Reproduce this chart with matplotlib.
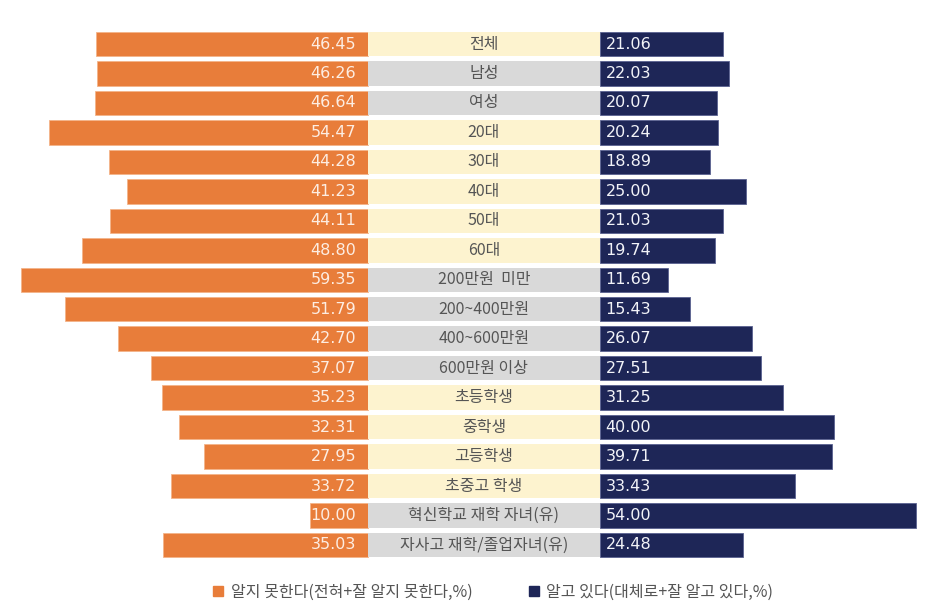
import matplotlib.pyplot as plt
from matplotlib.lines import Line2D

plt.rcParams['font.family'] = ['Noto Sans CJK KR', 'DejaVu Sans']

CATEGORIES = [
    "전체", "남성", "여성", "20대", "30대", "40대", "50대", "60대",
    "200만원  미만", "200~400만원", "400~600만원", "600만원 이상",
    "초등학생", "중학생", "고등학생", "초중고 학생",
    "혁신학교 재학 자녀(유)", "자사고 재학/졸업자녀(유)",
]
DONT_KNOW = [46.45, 46.26, 46.64, 54.47, 44.28, 41.23, 44.11, 48.80,
             59.35, 51.79, 42.70, 37.07, 35.23, 32.31, 27.95, 33.72,
             10.00, 35.03]
KNOW = [21.06, 22.03, 20.07, 20.24, 18.89, 25.00, 21.03, 19.74,
        11.69, 15.43, 26.07, 27.51, 31.25, 40.00, 39.71, 33.43,
        54.00, 24.48]
# label box shading: True = yellow, False = grey
YELLOW_ROW = [True, False, False, True, True, True, True, True,
              False, False, False, False, True, True, True, True,
              False, False]

LEGEND_LABELS = ["알지 못한다(전혀+잘 알지 못한다,%)", "알고 있다(대체로+잘 알고 있다,%)"]

ORANGE = "#E87D3A"
NAVY = "#1E2657"
YELLOW = "#FDF3CF"
GREY = "#D9D9D9"
HALF = 19.8  # half width of centre label column, in data units

fig = plt.figure(figsize=(9.42, 6.15), dpi=100)
ax = fig.add_axes([0, 0, 1, 1])
n = len(CATEGORIES)
ys = list(range(n))
h = 0.83

ax.barh(ys, [-v for v in DONT_KNOW], left=-HALF, height=h, color=ORANGE,
        edgecolor="#F4B48A", linewidth=0.6)
ax.barh(ys, KNOW, left=HALF, height=h, color=NAVY,
        edgecolor="#5A6190", linewidth=0.6)
ax.barh(ys, [2 * HALF] * n, left=-HALF, height=h,
        color=[YELLOW if y else GREY for y in YELLOW_ROW], linewidth=0)

for i in ys:
    ax.text(-HALF - 2.0, i, f"{DONT_KNOW[i]:.2f}", ha="right", va="center",
            color="#FDEDE2", fontsize=11.5, family="DejaVu Sans")
    ax.text(HALF + 1.0, i, f"{KNOW[i]:.2f}", ha="left", va="center",
            color="#F2F3F8", fontsize=11.5, family="DejaVu Sans")
    ax.text(0, i, CATEGORIES[i], ha="center", va="center",
            color="#555555", fontsize=11.5)

ax.set_xlim(-82.7, 78.3)
ax.set_ylim(17 + (615 - 545) / 29.47, -44 / 29.47)
ax.axis("off")

handles = [
    Line2D([], [], marker="s", linestyle="none", color=ORANGE, markersize=6.5),
    Line2D([], [], marker="s", linestyle="none", color=NAVY, markersize=6.5),
]
fig.legend(handles, LEGEND_LABELS, loc="center", bbox_to_anchor=(0.518, 0.037),
           ncol=2, frameon=False, fontsize=11.5, handletextpad=-0.2,
           columnspacing=2.8, labelcolor="#555555")

fig.savefig("out.png", dpi=100)
